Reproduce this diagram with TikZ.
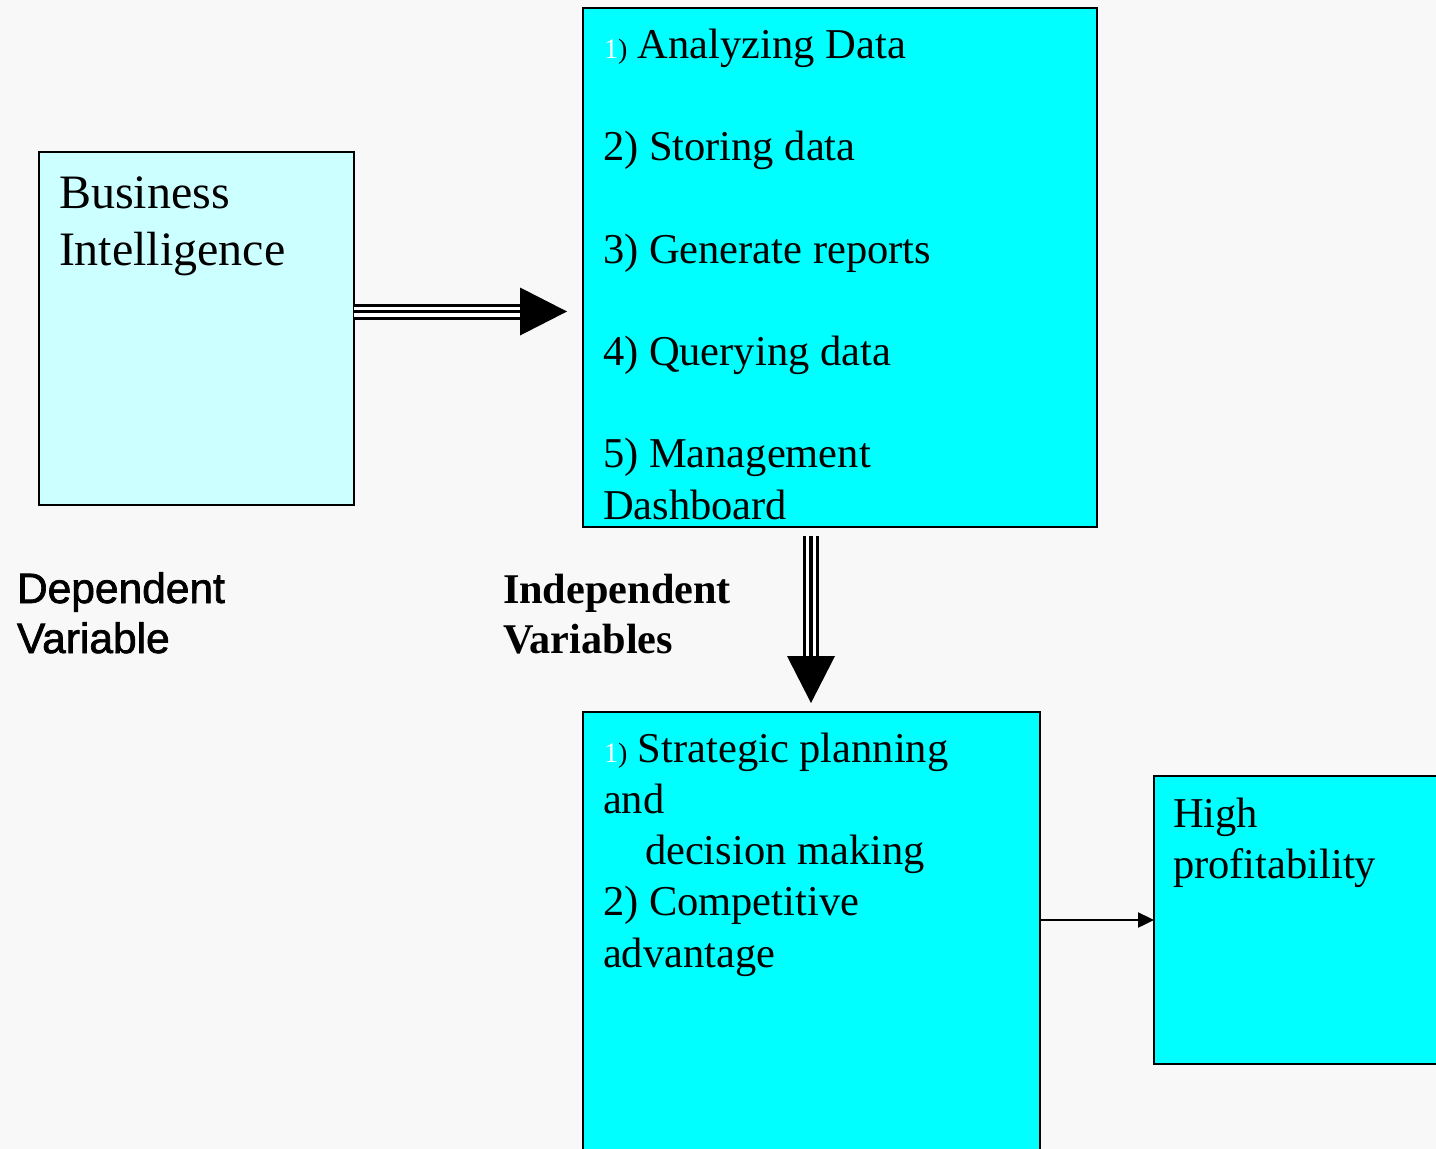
\documentclass[tikz,border=0pt]{standalone}
\usepackage{fontspec}
\setmainfont{Liberation Serif}
\newfontfamily\arialf[FakeBold=1.6]{Liberation Sans}
\usetikzlibrary{calc,arrows.meta}
\definecolor{bg}{HTML}{F8F8F8}
\definecolor{lcyan}{HTML}{CCFFFF}
\definecolor{cyanbox}{HTML}{00FFFF}
\begin{document}
\begin{tikzpicture}[x=1pt,y=-1pt,
  box/.style={draw=black,line width=1.6pt,outer sep=0pt,inner sep=0pt,anchor=north west},
  txt/.style={anchor=base west,inner sep=0pt,outer sep=0pt,font=\fontsize{42.5}{50}\selectfont},
  bigtxt/.style={txt,font=\fontsize{48}{57}\selectfont},
  sanstxt/.style={txt,font=\arialf\fontsize{42.5}{50}\selectfont},
  boldtxt/.style={txt,font=\bfseries\fontsize{42.3}{50}\selectfont}]
\fill[bg] (0,0) rectangle (1436,1149);
\clip (0,0) rectangle (1436,1149);
% boxes
\node[box,fill=lcyan,minimum width=315pt,minimum height=353pt] (bi) at (39,152) {};
\node[box,fill=cyanbox,minimum width=514pt,minimum height=519pt] (rb) at (583,8) {};
\node[box,fill=cyanbox,minimum width=457pt,minimum height=480pt] (bb) at (583,712) {};
\node[box,fill=cyanbox,minimum width=320pt,minimum height=288pt] (hp) at (1154,776) {};
% horizontal triple arrow
\coordinate (a1s) at ([yshift=17pt]bi.east);
\coordinate (a1e) at (a1s -| rb.west);
\draw[line width=16pt] (a1s) -- ($(a1e)+(-62,0)$);
\draw[line width=10pt,white] (a1s) -- ($(a1e)+(-62,0)$);
\draw[line width=3.2pt] (a1s) -- ($(a1e)+(-62,0)$);
\fill ($(a1e)+(-16,0)$) -- ($(a1e)+(-63,-24)$) -- ($(a1e)+(-63,24)$) -- cycle;
% vertical triple arrow
\coordinate (a2s) at ([xshift=-29pt]rb.south);
\coordinate (a2e) at (a2s |- bb.north);
\draw[line width=16pt] ($(a2s)+(0,9)$) -- ($(a2e)+(0,-55)$);
\draw[line width=10pt,white] ($(a2s)+(0,9)$) -- ($(a2e)+(0,-55)$);
\draw[line width=3.2pt] ($(a2s)+(0,9)$) -- ($(a2e)+(0,-55)$);
\fill ($(a2e)+(0,-9)$) -- ($(a2e)+(-24,-56)$) -- ($(a2e)+(24,-56)$) -- cycle;
% small arrow
\draw[line width=2.4pt,-{Triangle[length=16pt,width=15pt]}] (hp.west -| bb.east) -- (hp.west);
% texts
\node[bigtxt] (bi1) at (59,208) {Business};
\node[bigtxt] (bi2) at (59,265) {Intelligence};
\node[txt] (r1) at (604,58) {{\fontsize{28}{30}\selectfont\textcolor{white}{1})} Analyzing Data};
\node[txt] (r2) at (603,160) {2) Storing data};
\node[txt] (r3) at (603,263) {3) Generate reports};
\node[txt] (r4) at (603,365) {4) Querying data};
\node[txt] (r5) at (603,467) {5) Management};
\node[txt] (r6) at (603,519) {Dashboard};
\node[sanstxt] (dv1) at (17,603) {Dependent};
\node[sanstxt] (dv2) at (17,653) {Variable};
\node[boldtxt] (iv1) at (503,603) {Independent};
\node[boldtxt] (iv2) at (503,653) {Variables};
\node[txt] (b1) at (604,762) {{\fontsize{28}{30}\selectfont\textcolor{white}{1})} Strategic planning};
\node[txt] (b2) at (603,813) {and};
\node[txt] (b3) at (645,864) {decision making};
\node[txt] (b4) at (603,915) {2) Competitive};
\node[txt] (b5) at (603,967) {advantage};
\node[txt] (h1) at (1173,827) {High};
\node[txt] (h2) at (1173,878) {profitability};
\end{tikzpicture}
\end{document}
